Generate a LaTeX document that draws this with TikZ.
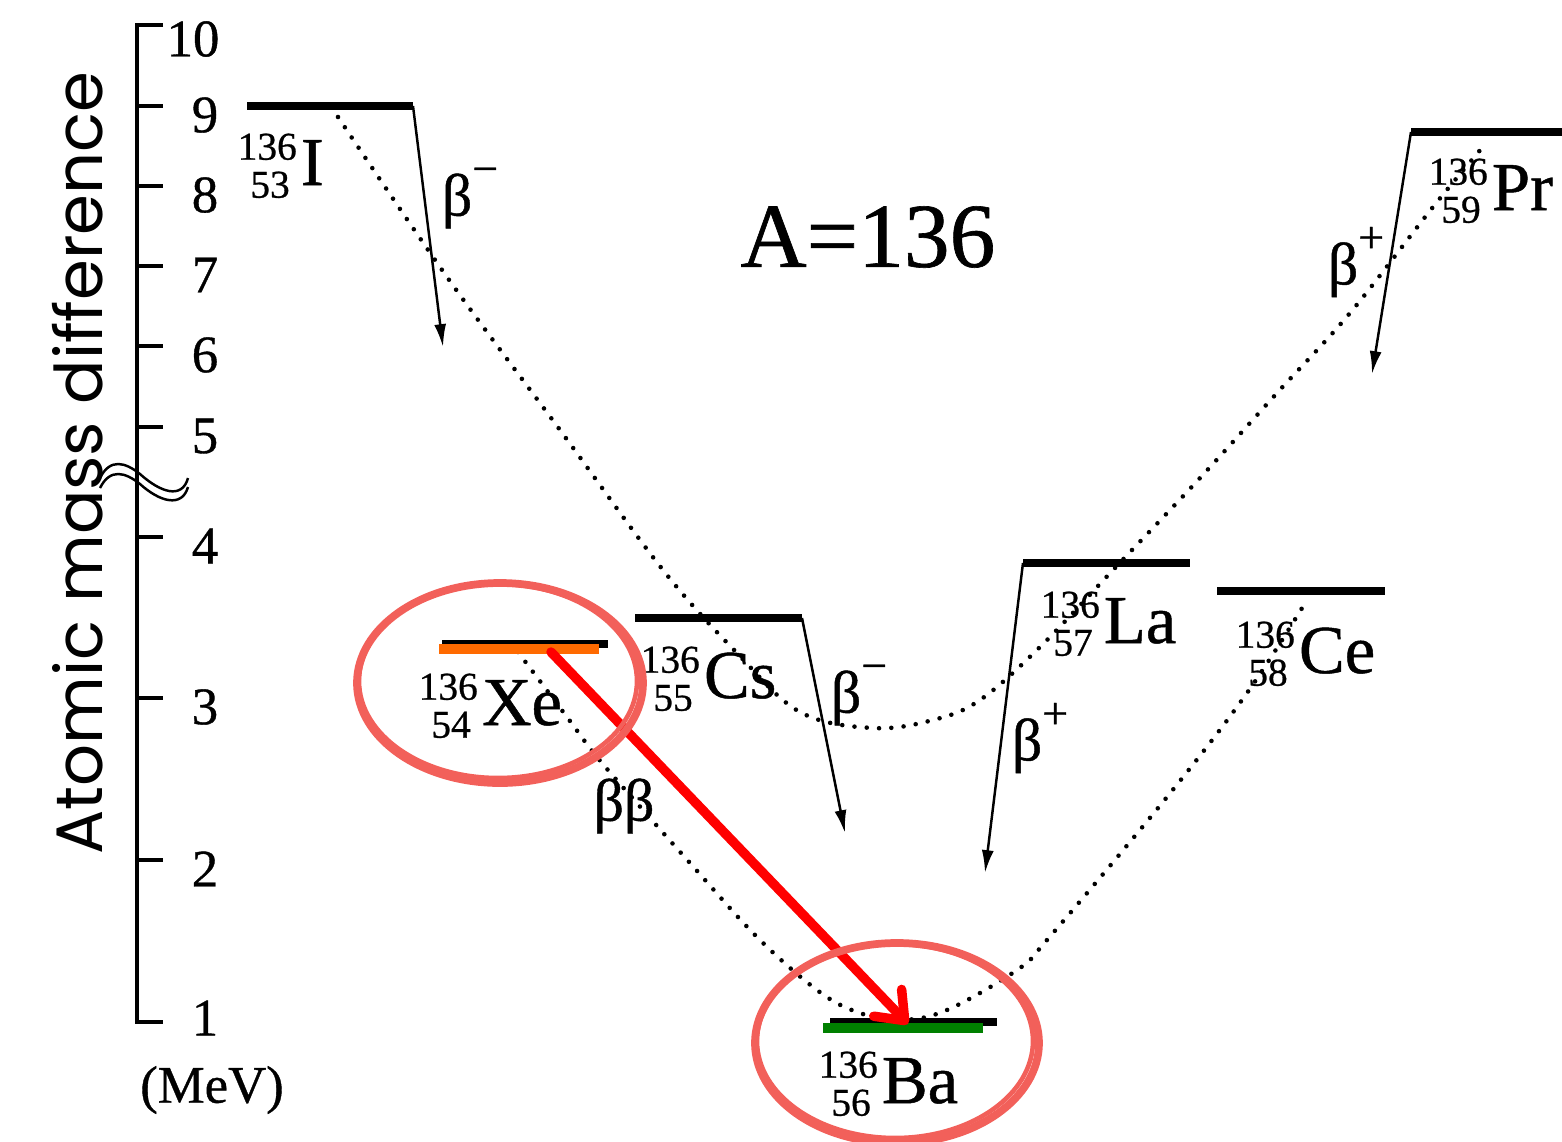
\documentclass[tikz,border=0pt]{standalone}
\usepackage{fontspec}
\setmainfont{Liberation Serif}[FakeBold=0.7]
\newfontfamily\axisfont{Poppins}
\usetikzlibrary{arrows.meta}
\definecolor{MarkRed}{HTML}{F2605A}
\definecolor{XeOrange}{HTML}{FF6A00}
\definecolor{BaGreen}{HTML}{008000}
\newcommand{\nuclide}[3]{\raisebox{-3.6pt}{\fontsize{11.2}{10.8}\selectfont\begin{tabular}[b]{@{}r@{}}#1\\#2\kern2pt\end{tabular}}\kern1.2pt{\fontsize{19.5}{21}\selectfont #3}}
\newcommand{\betasign}[1]{{\fontsize{17}{17}\selectfont β\raisebox{9pt}{\fontsize{13}{13}\selectfont #1}}}

\begin{document}
\begin{tikzpicture}[x=0.01cm,y=-0.01cm]
    \tikzset{level/.style={line width=2.4pt},
      decay/.style={line width=0.7pt,-{Latex[length=6.5pt,width=3.4pt]}},
      trend/.style={line width=1.3pt,line cap=round,dash pattern=on 0pt off 3.5pt},
      axisline/.style={line width=0.9pt},
      ticklabel/.style={font=\fontsize{15}{16}\selectfont,inner sep=0pt},
      nuclab/.style={anchor=base west,inner sep=0pt},
      betalab/.style={inner sep=0pt},
      marker/.style={draw=MarkRed,line width=2.2pt}}
    \useasboundingbox (0,0) rectangle (1562,1141);

    % energy axis with break
    \draw[axisline] (163,25) -- (137,25) -- (137,1022) -- (163,1022);
    \foreach \yy/\val in {106/9,186/8,266/7,346/6,427/5,537/4,698/3,860/2}{
      \draw[axisline] (137,\yy) -- (163,\yy);
      \node[ticklabel] (t\val) at (205,\yy+9) {\val};
    }
    \node[ticklabel] (t10) at (193,39) {10};
    \node[ticklabel] (t1) at (205,1018) {1};
    \node[ticklabel] (unit) at (212,1090) {(MeV)};
    \draw[line width=0.7pt] (100,478) .. controls (110,458) and (125,462) .. (140,474) .. controls (160,492) and (182,500) .. (188,478);
    \draw[line width=0.7pt] (100,488) .. controls (110,468) and (125,472) .. (140,484) .. controls (160,502) and (182,508) .. (188,487);
    \node[rotate=90,inner sep=0pt,font=\axisfont\fontsize{18.7}{20}\selectfont] (ylab) at (78,463) {Atomic mass difference};

    \node[inner sep=0pt,font=\fontsize{26}{28}\selectfont] (title) at (868,237) {A=136};

    % odd-odd and even-even mass parabolas
    \draw[trend] plot[smooth,tension=0.6] coordinates {(338,117) (447,277) (560,430) (663,570) (737,653) (800,712) (873,728) (933,720) (980,700) (1040,647) (1113,570) (1200,478) (1277,393) (1350,313) (1433,207) (1487,142)};
    \draw[trend] plot[smooth,tension=0.6] coordinates {(518,652) (567,717) (597,757) (643,810) (690,863) (757,937) (817,990) (857,1012) (900,1020) (947,1010) (1017,970) (1047,940) (1167,797) (1247,693) (1307,600)};

    % levels
    \coordinate (I-l) at (247,106);   \coordinate (I-r) at (413,106);
    \coordinate (Xe-l) at (442,644);  \coordinate (Xe-r) at (608,644);
    \coordinate (Cs-l) at (635,618);  \coordinate (Cs-r) at (802,618);
    \coordinate (Ba-l) at (830,1022); \coordinate (Ba-r) at (997,1022);
    \coordinate (La-l) at (1023,563); \coordinate (La-r) at (1190,563);
    \coordinate (Ce-l) at (1217,591); \coordinate (Ce-r) at (1385,591);
    \coordinate (Pr-l) at (1411,132); \coordinate (Pr-r) at (1562,132);
    \foreach \nuc in {I,Xe,Cs,Ba,La,Ce,Pr}
      \draw[level] (\nuc-l) -- (\nuc-r);

    % single beta decays
    \coordinate (I-end) at (443,347);
    \coordinate (Cs-end) at (845,833);
    \coordinate (La-end) at (985,873);
    \coordinate (Pr-end) at (1372,374);
    \draw[decay] (I-r) -- (I-end);
    \draw[decay] (Cs-r) -- (Cs-end);
    \draw[decay] (La-l) -- (La-end);
    \draw[decay] (Pr-l) -- (Pr-end);
    \node[betalab] (bI) at (470,198) {\betasign{−}};
    \node[betalab] (bCs) at (859,695) {\betasign{−}};
    \node[betalab] (bLa) at (1040,738) {\betasign{+}};
    \node[betalab] (bPr) at (1356,262) {\betasign{+}};
    \node[betalab,font=\fontsize{17}{17}\selectfont] (bb) at (624,806) {ββ};

    % nuclide names
    \node[nuclab] (I-lab) at (237,185) {\nuclide{136}{53}{I}};
    \node[nuclab] (Xe-lab) at (418,725) {\nuclide{136}{54}{Xe}};
    \node[nuclab] (Cs-lab) at (640,698) {\nuclide{136}{55}{Cs}};
    \node[nuclab] (Ba-lab) at (818,1103) {\nuclide{136}{56}{Ba}};
    \node[nuclab] (La-lab) at (1040,643) {\nuclide{136}{57}{La}};
    \node[nuclab] (Ce-lab) at (1235,673) {\nuclide{136}{58}{Ce}};
    \node[nuclab] (Pr-lab) at (1428,210) {\nuclide{136}{59}{Pr}};

    % highlighted double beta decay
    \draw[line width=2.8pt,XeOrange] (439,649) -- (599,649);
    \draw[line width=2.8pt,BaGreen] (823,1028) -- (983,1028);
    \coordinate (bb-from) at (551,652);
    \coordinate (bb-to) at (908,1024);
    \draw[red,line width=2.7pt,line cap=round,-{Straight Barb[length=7pt,width=11pt,round]}] (bb-from) -- (bb-to);
    \draw[marker] (500,683) ellipse [x radius=143,y radius=100];
    \draw[marker,line width=1.3pt] (498,681) ellipse [x radius=139,y radius=97];
    \draw[marker] (897,1043) ellipse [x radius=142,y radius=100];
    \draw[marker,line width=1.3pt] (895,1041) ellipse [x radius=138,y radius=97];
  \end{tikzpicture}
\end{document}
